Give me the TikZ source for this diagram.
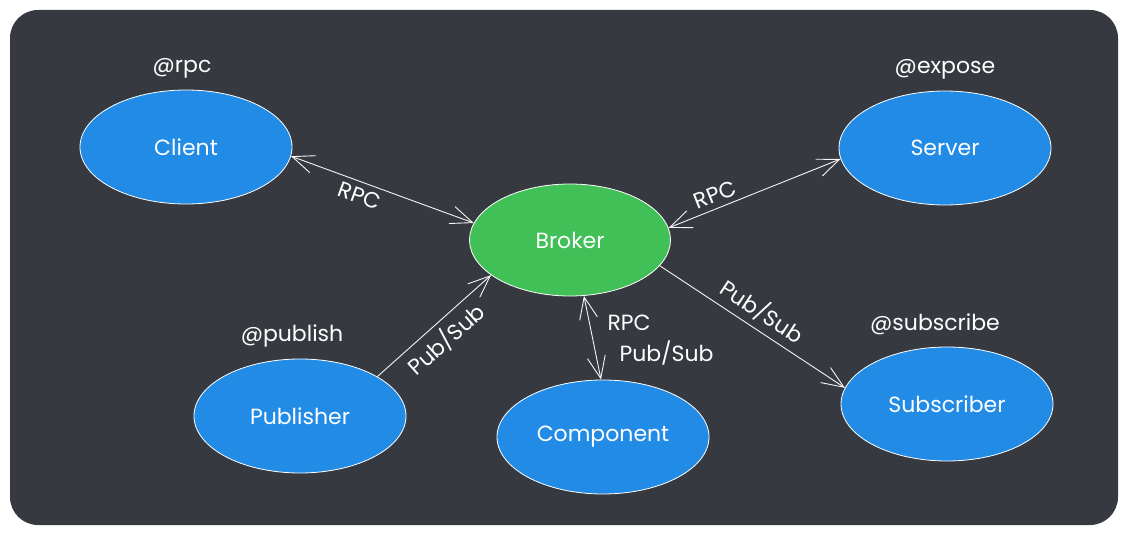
\documentclass[tikz,border=0pt]{standalone}
\usepackage{fontspec}
\setmainfont{Poppins}
\usetikzlibrary{shapes.geometric,arrows.meta,positioning}

\definecolor{bgdark}{HTML}{363940}
\definecolor{nodeblue}{HTML}{228BE6}
\definecolor{nodegreen}{HTML}{40C057}

\begin{document}
\begin{tikzpicture}[x=1pt, y=-1pt, font=\fontsize{22}{26}\selectfont, text=white,
	svc/.style={ellipse, draw=white, line width=.8pt, fill=nodeblue, minimum width=212pt, minimum height=114pt, inner sep=0pt},
	link/.style={draw=white!92!gray, line width=.9pt},
	>={Straight Barb[length=22pt, width=18pt]}]
	\useasboundingbox (0,0) rectangle (1128,535);
	\fill[bgdark, rounded corners=28pt] (10,10) rectangle (1118,525);
	% services
	\node[svc, fill=nodegreen, minimum width=201pt, minimum height=112pt] (broker) at (570,240) {Broker};
	\foreach \n/\x/\y/\t in {client/186/147/Client, server/945/148/Server, publisher/300/416/Publisher, component/603/437/Component, subscriber/947/404/Subscriber}
		\node[svc] (\n) at (\x,\y) {\t};
	% decorators
	\node[above=8pt of client, xshift=-4pt] (rpc) {@rpc};
	\node[above=8pt of server] (expose) {@expose};
	\node[above=8pt of publisher, xshift=-8pt] (publish) {@publish};
	\node[above=8pt of subscriber, xshift=-12pt] (subscribe) {@subscribe};
	% links
	\draw[link, <->] (client.-5) -- node[pos=.4, sloped, below=2pt] {RPC} (broker.170);
	\draw[link, <->] (broker.7) -- node[pos=.3, sloped, above=2pt] {RPC} (server.186);
	\draw[link, ->] (publisher.27) -- node[sloped, below=2pt] {Pub/Sub} (broker.204);
	\draw[link, ->] (broker.-16) -- node[sloped, above=2pt] {Pub/Sub} (subscriber.171);
	\draw[link, <->] (broker.-76) -- (component.92);
	\node[anchor=west] (cmprpc) at (604,323) {RPC};
	\node[anchor=west] (cmpps) at (616,353) {Pub/Sub};
\end{tikzpicture}
\end{document}
